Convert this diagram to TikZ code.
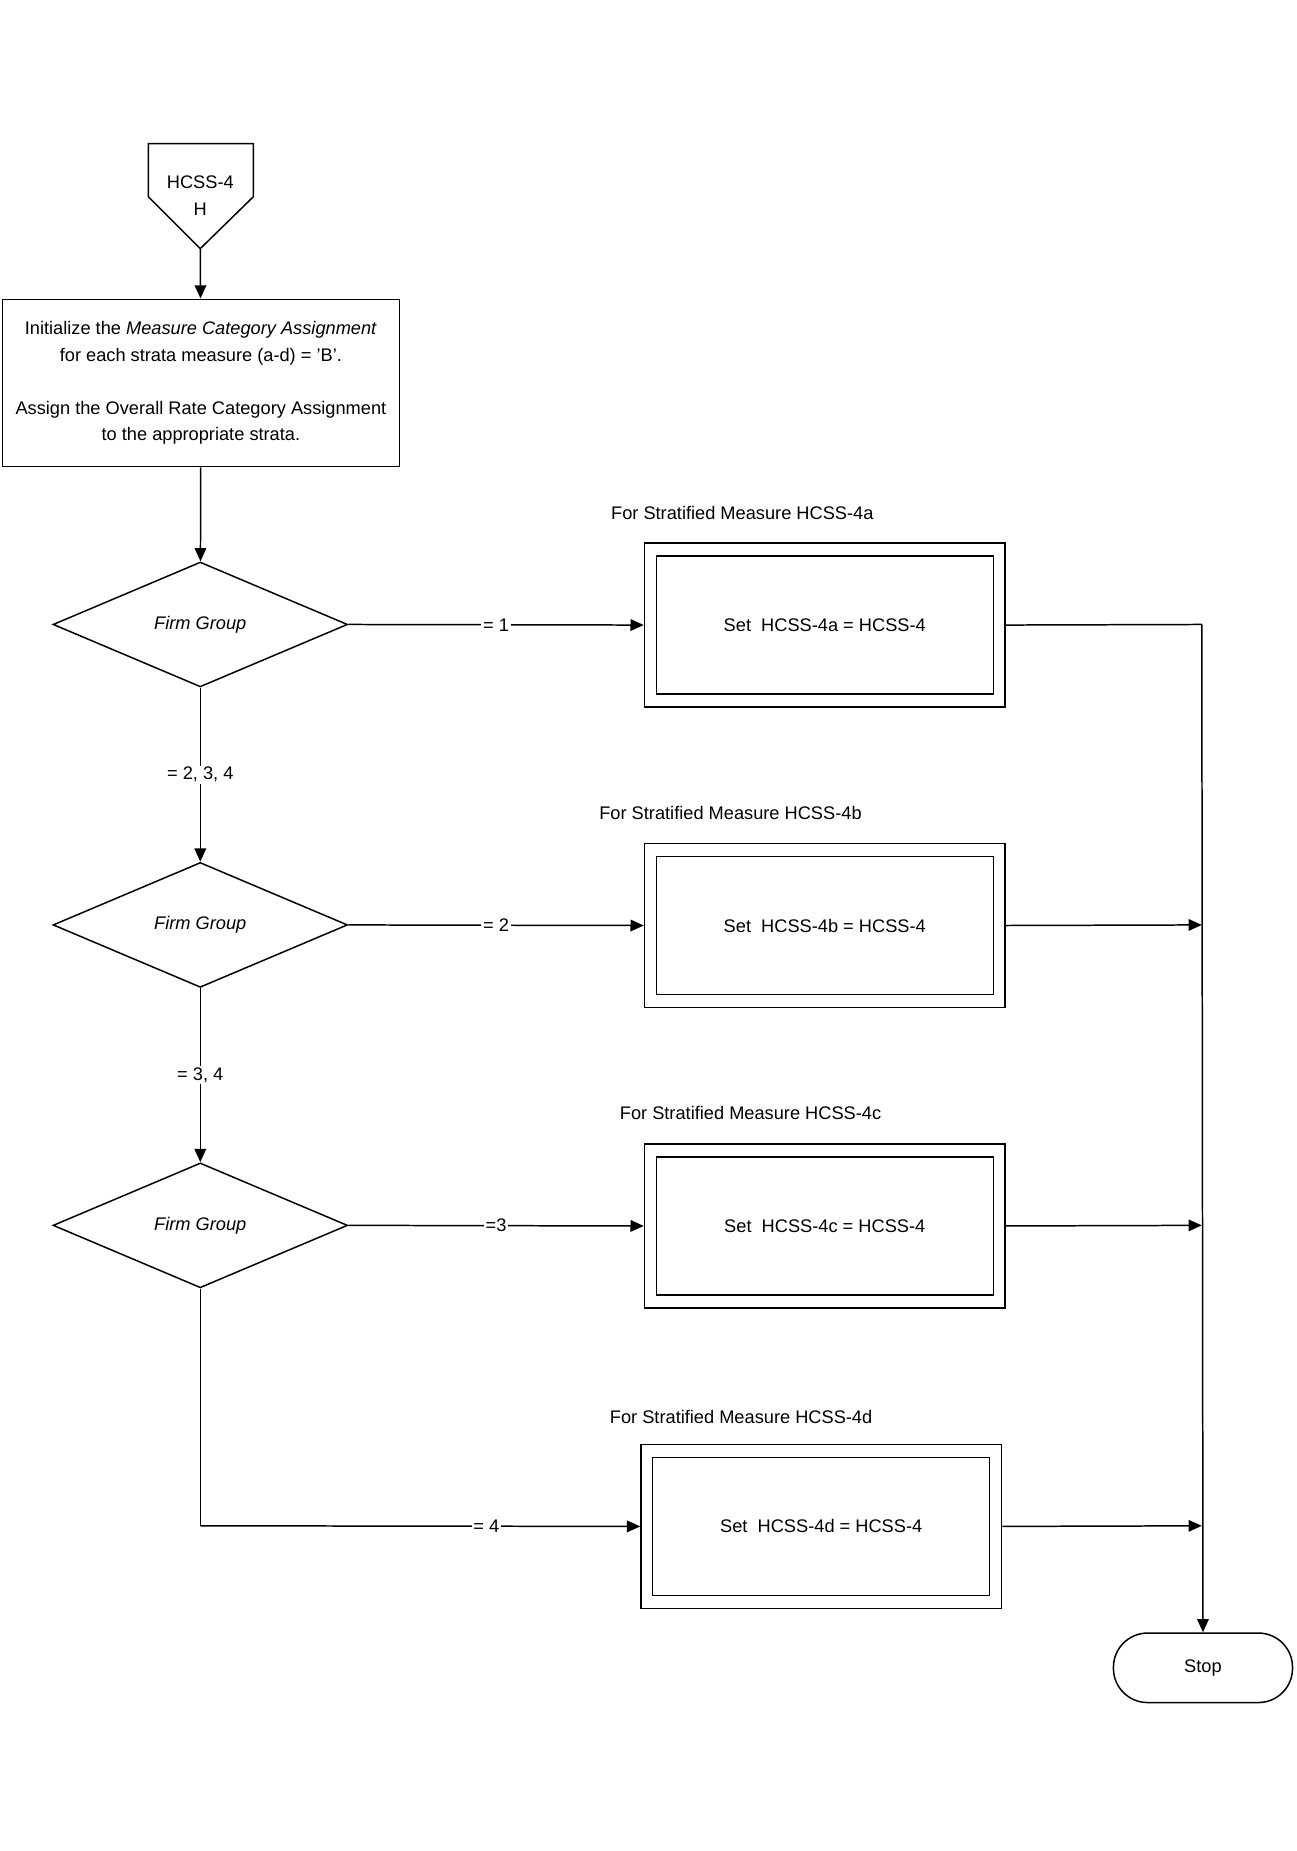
\documentclass[tikz,border=0pt]{standalone}
\usepackage{fontspec}
\setmainfont{Liberation Sans}
\usetikzlibrary{shapes.geometric,arrows.meta,positioning}
\begin{document}
\begin{tikzpicture}[x=0.025cm,y=-0.025cm,
    font=\fontsize{11}{16}\selectfont,
    every path/.style={line width=0.9pt},
    arr/.style={-{Triangle[length=8pt,width=7pt]}},
    box/.style={draw,minimum width=306*0.025cm,minimum height=139*0.025cm},
    inbox/.style={draw,minimum width=286*0.025cm,minimum height=117*0.025cm},
    dec/.style={draw,diamond,aspect=2.36,minimum width=250*0.025cm,minimum height=106*0.025cm,inner sep=0pt,font=\fontsize{11}{16}\selectfont\itshape},
    lab/.style={fill=white,inner sep=1pt}]
  \useasboundingbox (0,0) rectangle (1100,1571);

  % off-page connector
  \draw (126,122) -- (215,122) -- (215,167) -- (170,211) -- (126,167) -- cycle;
  \node[align=center] (start) at (170,166) {HCSS-4\\H};
  \coordinate (startb) at (170,211);

  \node[draw,minimum width=337*0.025cm,minimum height=142*0.025cm,align=center] (init) at (170.5,325)
    {Initialize the \textit{Measure Category Assignment}\\for each strata measure (a-d) = 'B'.\\[\baselineskip]
     Assign the Overall Rate Category Assignment\\to the appropriate strata.};

  \node[dec] (fg1) at (170,530) {Firm Group};
  \node[dec] (fg2) at (170,785) {Firm Group};
  \node[dec] (fg3) at (170,1040) {Firm Group};

  \node[box] (b1) at (700,530.5) {};
  \node[inbox] at (b1) {Set\ \ HCSS-4a = HCSS-4};
  \node[box] (b2) at (700,785.5) {};
  \node[inbox] at (b2) {Set\ \ HCSS-4b = HCSS-4};
  \node[box] (b3) at (700,1040.5) {};
  \node[inbox] at (b3) {Set\ \ HCSS-4c = HCSS-4};
  \node[box] (b4) at (697,1295.5) {};
  \node[inbox] at (b4) {Set\ \ HCSS-4d = HCSS-4};

  \node at (630,435) {For Stratified Measure HCSS-4a};
  \node at (620,690) {For Stratified Measure HCSS-4b};
  \node at (637,945) {For Stratified Measure HCSS-4c};
  \node at (629,1203) {For Stratified Measure HCSS-4d};

  \node[draw,rounded corners=29*0.025cm,minimum width=152*0.025cm,minimum height=59*0.025cm] (stop) at (1021,1415.5) {Stop};

  \coordinate (j1) at (1020,530);
  \coordinate (j4) at (170,1295);

  \draw[arr] (startb) -- (init);
  \draw[arr] (init) -- (fg1);
  \draw[arr] (fg1) -- node[lab]{= 2, 3, 4} (fg2);
  \draw[arr] (fg2) -- node[lab]{= 3, 4} (fg3);
  \draw[arr] (fg1.east) -- node[lab,pos=0.5]{= 1} (b1.west);
  \draw[arr] (fg2.east) -- node[lab,pos=0.5]{= 2} (b2.west);
  \draw[arr] (fg3.east) -- node[lab,pos=0.5]{=3} (b3.west);
  \draw (fg3.south) -- (j4);
  \draw[arr] (j4) -- node[lab,pos=0.65]{= 4} (b4.west);
  \draw (b1.east) -- (j1);
  \draw[arr] (j1) -- (stop.north);
  \draw[arr] (b2.east) -- (1020,785);
  \draw[arr] (b3.east) -- (1020,1040);
  \draw[arr] (b4.east) -- (1020,1295);
\end{tikzpicture}
\end{document}
